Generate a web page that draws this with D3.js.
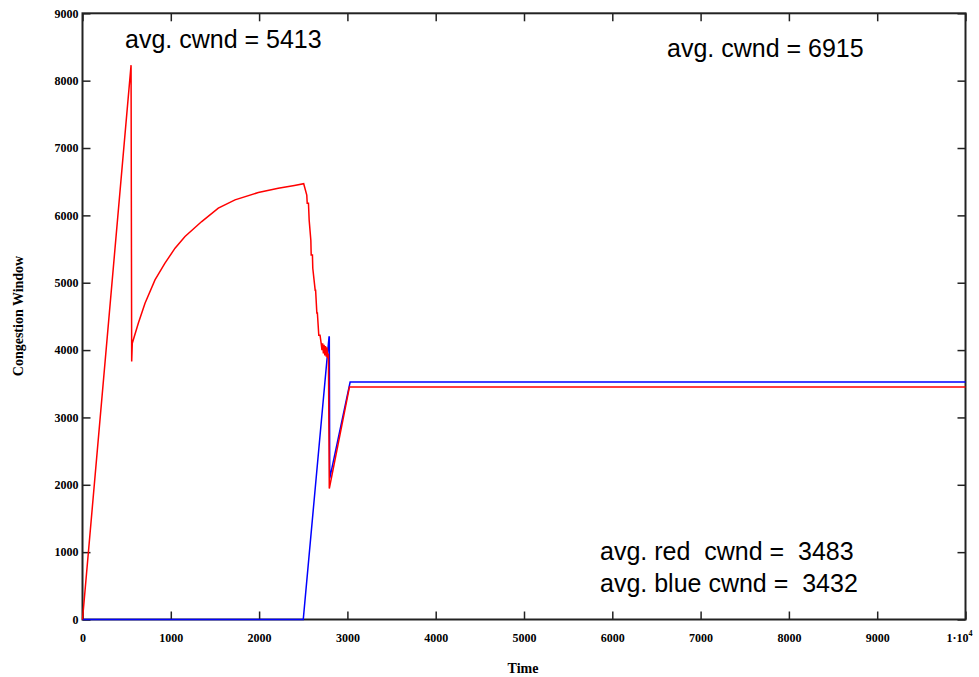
<!DOCTYPE html>
<html>
<head>
<meta charset="utf-8">
<script src="https://cdn.jsdelivr.net/npm/d3@7"></script>
<style>
  body { margin: 0; background: #fff; }
  svg text.ann { font-family: "Liberation Sans", Arial, sans-serif; font-size: 25px; white-space: pre; }
  svg .tick text, svg text.lab { font-family: "Liberation Serif", "Times New Roman", serif; font-weight: bold; }
</style>
</head>
<body>
<div id="chart"></div>
<script>
// values
var redTime = [0, 550, 557, 564, 632, 708, 821, 934, 1048, 1161, 1350, 1538, 1727, 1991, 2217, 2400, 2505,
               2540, 2545, 2559, 2567, 2586, 2590, 2604, 2608, 2635, 2640, 2654, 2660, 2676, 2690, 2703,
               2712, 2720, 2728, 2736, 2744, 2752, 2760, 2768, 2776, 2785, 2795, 3023, 10000];
var redCwnd = [0, 8230, 3829, 4102, 4399, 4696, 5042, 5290, 5513, 5686, 5908, 6107, 6230, 6339, 6404, 6445, 6470,
               6300, 6180, 6180, 5930, 5630, 5410, 5410, 5215, 4890, 4890, 4550, 4550, 4220, 4220, 4100,
               4000, 4100, 3950, 4080, 3920, 4060, 3900, 4040, 3880, 3950, 1945, 3450, 3450];

var blueTime = [0, 2500, 2792, 2795, 2800, 3031, 10000];
var blueCwnd = [0, 0, 4195, 4195, 2095, 3525, 3525];

var xTicks = [0, 1000, 2000, 3000, 4000, 5000, 6000, 7000, 8000, 9000, 10000];
var yTicks = [0, 1000, 2000, 3000, 4000, 5000, 6000, 7000, 8000, 9000];

var notes = [
  { text: "avg. cwnd = 5413", x: 125, y: 48 },
  { text: "avg. cwnd = 6915", x: 667, y: 57 },
  { text: "avg. red  cwnd =  3483", x: 600, y: 560 },
  { text: "avg. blue cwnd =  3432", x: 600, y: 592 }
];

function init() {
    var w = 979, h = 677;
    var left = 82.5, right = 965.5, top = 13.3, bottom = 619.5;

    var svg = d3.select("#chart").append("svg")
        .attr("width", w)
        .attr("height", h);

    var x = d3.scaleLinear().domain([0, 10000]).range([left, right]);
    var y = d3.scaleLinear().domain([0, 9000]).range([bottom, top]);

    var tickLen = 8;

    // frame
    svg.append("rect")
        .attr("x", left).attr("y", top)
        .attr("width", right - left).attr("height", bottom - top)
        .attr("fill", "none").attr("stroke", "#222").attr("stroke-width", 2);

    // inward ticks on all sides
    var xAxis = svg.append("g").attr("transform", "translate(0," + bottom + ")")
        .call(d3.axisBottom(x).tickValues(xTicks).tickSizeInner(-tickLen).tickSizeOuter(0).tickPadding(14)
            .tickFormat(function(d) { return d === 10000 ? "" : String(d); }));
    var yAxis = svg.append("g").attr("transform", "translate(" + left + ",0)")
        .call(d3.axisLeft(y).tickValues(yTicks).tickSizeInner(-tickLen).tickSizeOuter(0).tickPadding(4)
            .tickFormat(function(d) { return String(d); }));
    var xTop = svg.append("g").attr("transform", "translate(0," + top + ")")
        .call(d3.axisTop(x).tickValues(xTicks).tickSizeInner(-tickLen).tickSizeOuter(0).tickFormat(""));
    var yRight = svg.append("g").attr("transform", "translate(" + right + ",0)")
        .call(d3.axisRight(y).tickValues(yTicks).tickSizeInner(-tickLen).tickSizeOuter(0).tickFormat(""));

    [xAxis, yAxis, xTop, yRight].forEach(function(g) {
        g.select(".domain").remove();
        g.selectAll(".tick line").attr("stroke", "#222").attr("stroke-width", 1.5);
        g.selectAll(".tick text").attr("fill", "#000").style("font-size", "12px");
    });

    // 1·10^4 label
    var lastLab = svg.append("text").attr("class", "lab")
        .attr("x", x(10000) - 6).attr("y", bottom + 22)
        .attr("text-anchor", "middle").style("font-size", "12px");
    lastLab.append("tspan").text("1\u00b710");
    lastLab.append("tspan").attr("dy", -6).style("font-size", "8px").text("4");

    // axis titles
    svg.append("text").attr("class", "lab")
        .attr("x", (left + right) / 2 - 1).attr("y", 673)
        .attr("text-anchor", "middle").style("font-size", "14px")
        .text("Time");
    svg.append("text").attr("class", "lab")
        .attr("transform", "translate(23," + 316 + ") rotate(-90)")
        .attr("text-anchor", "middle").style("font-size", "14px")
        .text("Congestion Window");

    var line = d3.line()
        .x(function(d) { return x(d[0]); })
        .y(function(d) { return y(d[1]); });

    var blue = d3.zip(blueTime, blueCwnd);
    var red = d3.zip(redTime, redCwnd);

    svg.append("path").datum(blue)
        .attr("d", line).attr("fill", "none")
        .attr("stroke", "#0000ff").attr("stroke-width", 1.5);
    svg.append("path").datum(red)
        .attr("d", line).attr("fill", "none")
        .attr("stroke", "#ff0000").attr("stroke-width", 1.5);

    svg.selectAll("text.ann").data(notes).enter()
        .append("text").attr("class", "ann")
        .attr("x", function(d) { return d.x; })
        .attr("y", function(d) { return d.y; })
        .text(function(d) { return d.text; });
}

window.onload = init;
</script>
</body>
</html>
